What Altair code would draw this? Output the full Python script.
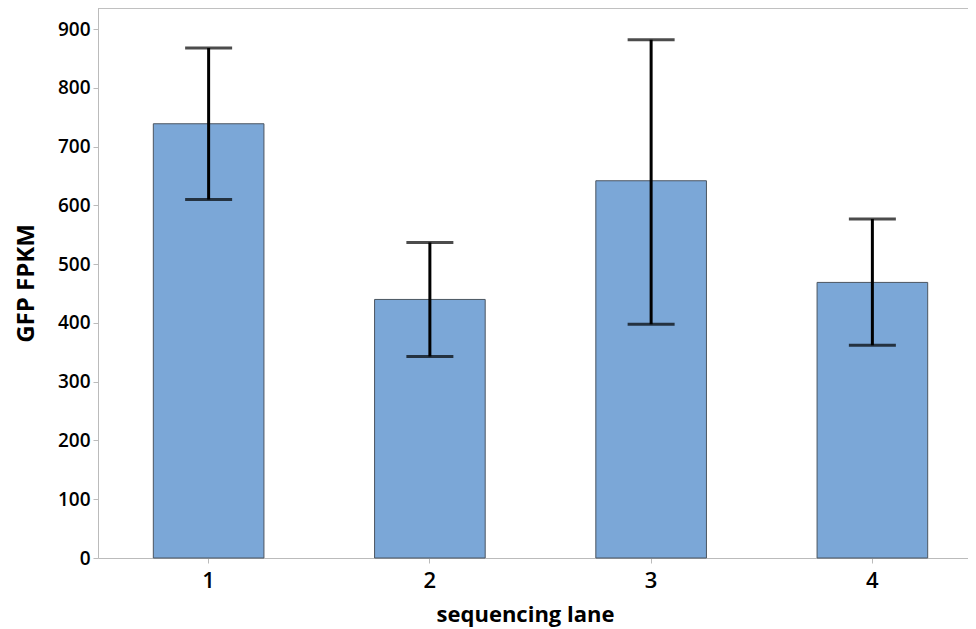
import altair as alt
import pandas as pd

lanes = ["1", "2", "3", "4"]
fpkm = [739, 440, 642, 469]
err_low = [610, 343, 398, 362]
err_high = [868, 537, 882, 577]

df = pd.DataFrame({"lane": lanes, "fpkm": fpkm, "lo": err_low, "hi": err_high})

FONT = "Open Sans"
W = 870
H = 550

xenc = alt.X("lane:N", scale=alt.Scale(range=[0, 885], paddingInner=0.5, paddingOuter=0.25),
             axis=alt.Axis(title="sequencing lane", labelAngle=0, labelFontSize=22, labelFontWeight=600,
                           labelFont=FONT, labelColor="black", titleFont=FONT, titleFontSize=22,
                           titleFontWeight="bold", titleColor="black", domainColor="#bbbbbb",
                           tickColor="#bbbbbb", tickSize=5, labelPadding=7, titlePadding=13,
                           titleX=427))

yscale = alt.Scale(domain=[0, 936], nice=False)
yaxis = alt.Axis(title="GFP FPKM", values=list(range(0, 1000, 100)), labelFontSize=19, labelFontWeight=600,
                 labelFont=FONT, labelColor="black", titleFont=FONT, titleFontSize=24,
                 titleFontWeight="bold", titleColor="black", domainColor="#bbbbbb", tickColor="#bbbbbb",
                 tickSize=5, grid=False, labelPadding=3, titlePadding=19)

bars = alt.Chart(df).mark_bar(fill="#7ba7d7", stroke="#4b5560", strokeWidth=1).encode(
    x=xenc, y=alt.Y("fpkm:Q", scale=yscale, axis=yaxis)
)

rules = alt.Chart(df).mark_rule(color="black", strokeWidth=3).encode(
    x="lane:N", y="lo:Q", y2="hi:Q"
)
cap_lo = alt.Chart(df).mark_tick(color="black", size=47, thickness=3, orient="horizontal").encode(
    x="lane:N", y="lo:Q"
)
cap_hi = alt.Chart(df).mark_tick(color="black", size=47, thickness=3, orient="horizontal").encode(
    x="lane:N", y="hi:Q"
)
top = alt.Chart(df).mark_rule(color="#bbbbbb", strokeWidth=1).encode(
    x=alt.value(0), x2=alt.value(W + 10), y=alt.value(0)
)

chart = alt.layer(bars, rules, cap_lo, cap_hi, top).properties(
    width=W, height=H,
    autosize=alt.AutoSizeParams(type="none"),
    padding={"left": 90, "top": 0, "right": 0, "bottom": 70},
).configure_view(stroke=None)

chart.save("out.html", embed_options={"renderer": "svg", "actions": False})
